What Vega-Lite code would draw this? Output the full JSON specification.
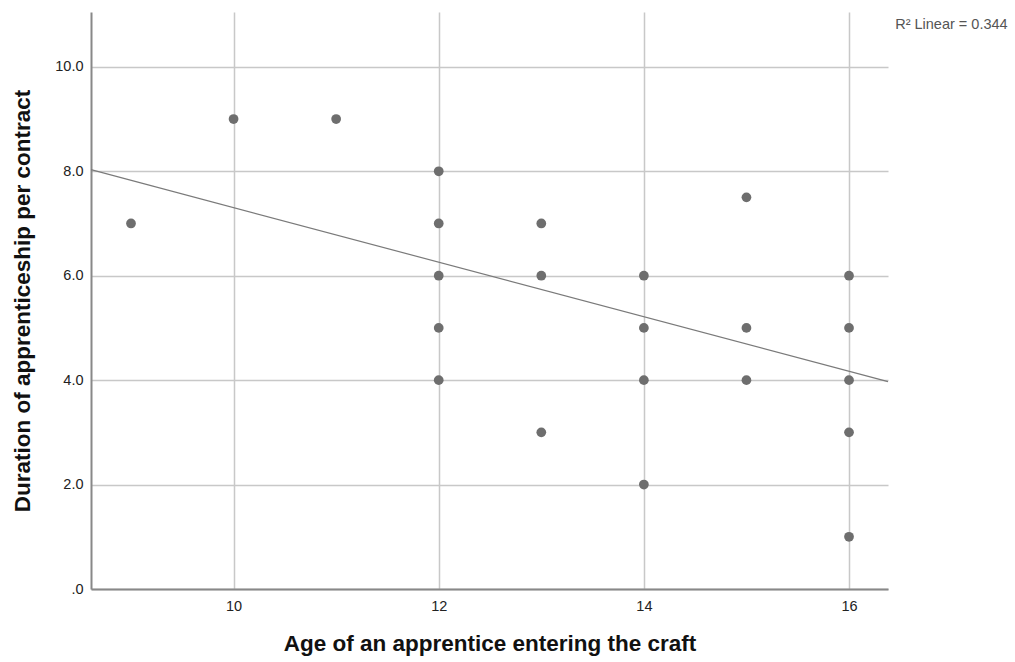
{
  "$schema": "https://vega.github.io/schema/vega-lite/v6.json",
  "width": 797,
  "height": 577,
  "autosize": {"type": "none"},
  "padding": {"left": 91, "top": 12, "right": 127, "bottom": 73},
  "background": "white",
  "config": {
    "view": {"stroke": null},
    "font": "Liberation Sans",
    "axis": {
      "labelFont": "Liberation Sans",
      "titleFont": "Liberation Sans",
      "labelColor": "#222",
      "titleColor": "#111",
      "gridColor": "#c8c8c8",
      "gridWidth": 1.5,
      "domainColor": "#888",
      "domainWidth": 2,
      "ticks": false,
      "labelFontSize": 14.5,
      "titleFontSize": 22.5,
      "titleFontWeight": "bold"
    }
  },
  "datasets": {
    "points": [
      {"age": 9, "duration": 7},
      {"age": 10, "duration": 9},
      {"age": 11, "duration": 9},
      {"age": 12, "duration": 8},
      {"age": 12, "duration": 7},
      {"age": 12, "duration": 6},
      {"age": 12, "duration": 5},
      {"age": 12, "duration": 4},
      {"age": 13, "duration": 7},
      {"age": 13, "duration": 6},
      {"age": 13, "duration": 3},
      {"age": 14, "duration": 6},
      {"age": 14, "duration": 5},
      {"age": 14, "duration": 4},
      {"age": 14, "duration": 2},
      {"age": 15, "duration": 7.5},
      {"age": 15, "duration": 5},
      {"age": 15, "duration": 4},
      {"age": 16, "duration": 6},
      {"age": 16, "duration": 5},
      {"age": 16, "duration": 4},
      {"age": 16, "duration": 3},
      {"age": 16, "duration": 1}
    ],
    "fit": [
      {"age": 8.61, "duration": 8.03},
      {"age": 16.38, "duration": 3.97}
    ],
    "note": [
      {"age": 16.45, "duration": 10.8, "label": "R² Linear = 0.344"}
    ]
  },
  "layer": [
    {
      "data": {"name": "points"},
      "mark": {"type": "point", "filled": true, "shape": "circle", "size": 95, "color": "#6e6e6e", "opacity": 1},
      "encoding": {
        "x": {
          "field": "age", "type": "quantitative",
          "scale": {"domain": [8.61, 16.38], "nice": false, "zero": false},
          "axis": {"values": [10, 12, 14, 16], "format": "d", "title": "Age of an apprentice entering the craft", "titlePadding": 20, "labelPadding": 10}
        },
        "y": {
          "field": "duration", "type": "quantitative",
          "scale": {"domain": [0, 11.05], "nice": false},
          "axis": {"values": [0, 2, 4, 6, 8, 10], "labelExpr": "datum.value == 0 ? '.0' : format(datum.value, '.1f')", "title": "Duration of apprenticeship per contract", "titlePadding": 20, "labelPadding": 8}
        }
      }
    },
    {
      "data": {"name": "fit"},
      "mark": {"type": "line", "color": "#7a7a7a", "strokeWidth": 1.2},
      "encoding": {
        "x": {"field": "age", "type": "quantitative"},
        "y": {"field": "duration", "type": "quantitative"}
      }
    },
    {
      "data": {"name": "note"},
      "mark": {"type": "text", "align": "left", "baseline": "middle", "fontSize": 14.5, "color": "#555", "font": "Liberation Sans"},
      "encoding": {
        "x": {"field": "age", "type": "quantitative"},
        "y": {"field": "duration", "type": "quantitative"},
        "text": {"field": "label"}
      }
    }
  ]
}
